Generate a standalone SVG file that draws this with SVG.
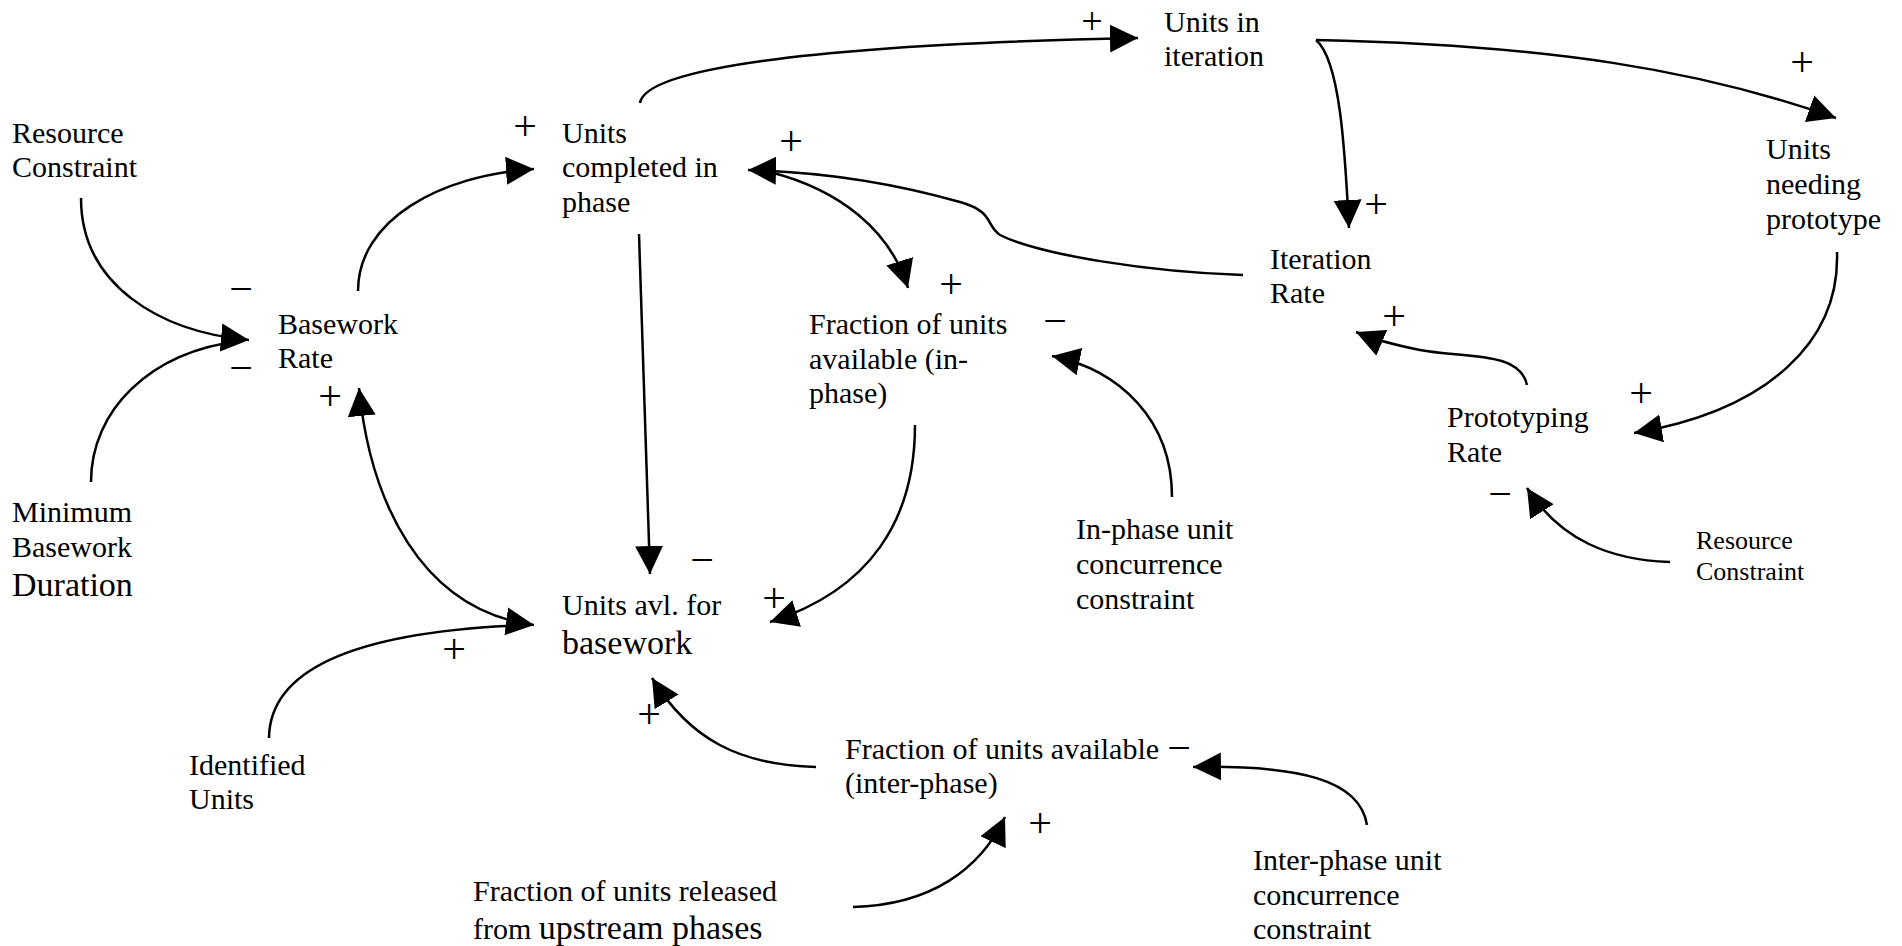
<svg xmlns="http://www.w3.org/2000/svg" width="1902" height="946" viewBox="0 0 1902 946">
<style>
text{font-family:"Liberation Serif","Times New Roman",serif;font-size:30px;fill:#000}
.big{font-size:34px}
.sm{font-size:26px}
.sign{font-size:42px;text-anchor:middle}
.c{fill:none;stroke:#000;stroke-width:2.5}
</style>
<defs>
<marker id="ah" markerUnits="userSpaceOnUse" markerWidth="30" markerHeight="30" refX="28" refY="14" orient="auto-start-reverse" viewBox="0 0 30 28">
<path d="M0,0 L28,14 L0,28 z" fill="#000"/>
</marker>
</defs>
<rect width="1902" height="946" fill="#fff"/>

<g id="connectors">
<path class="c" d="M81,198 C81,285 160,332 249,340" marker-end="url(#ah)"/>
<path class="c" d="M91,482 C91,410 150,352 240,341"/>
<path class="c" d="M358,291 C358,220 440,175 534,169" marker-end="url(#ah)"/>
<path class="c" d="M640,103 C645,70 800,45 1138,38" marker-end="url(#ah)"/>
<path class="c" d="M639,234 L650,574" marker-end="url(#ah)"/>
<path class="c" d="M770,172 C840,190 890,230 908,288" marker-end="url(#ah)"/>
<path class="c" d="M1243,275 C1150,272 1040,255 1000,235 C985,225 995,212 960,202 C900,185 830,172 748,170" marker-end="url(#ah)"/>
<path class="c" d="M1316,40 C1340,60 1345,150 1349,228" marker-end="url(#ah)"/>
<path class="c" d="M1316,40 C1550,45 1700,70 1836,118" marker-end="url(#ah)"/>
<path class="c" d="M1837,252 C1840,340 1770,410 1634,433" marker-end="url(#ah)"/>
<path class="c" d="M1527,385 C1520,350 1460,358 1420,350 C1395,345 1375,340 1356,332" marker-end="url(#ah)"/>
<path class="c" d="M1670,562 C1610,560 1560,540 1527,488" marker-end="url(#ah)"/>
<path class="c" d="M915,425 C915,520 870,590 770,622" marker-end="url(#ah)"/>
<path class="c" d="M1172,497 C1172,420 1120,370 1052,356" marker-end="url(#ah)"/>
<path class="c" d="M359,388 C370,500 420,610 534,625" marker-start="url(#ah)" marker-end="url(#ah)"/>
<path class="c" d="M269,738 C270,660 380,630 530,625"/>
<path class="c" d="M816,767 C740,765 690,740 652,678" marker-end="url(#ah)"/>
<path class="c" d="M853,907 C930,905 980,870 1005,817" marker-end="url(#ah)"/>
<path class="c" d="M1367,825 C1360,780 1300,765 1193,767" marker-end="url(#ah)"/>
</g>

<g id="signs">
<text class="sign" x="525" y="140">+</text>
<text class="sign" x="241" y="303">−</text>
<text class="sign" x="241" y="382">−</text>
<text class="sign" x="330" y="410">+</text>
<text class="sign" x="1092" y="34" style="font-size:38px">+</text>
<text class="sign" x="791" y="155">+</text>
<text class="sign" x="951" y="298">+</text>
<text class="sign" x="1055" y="335">−</text>
<text class="sign" x="1376" y="218">+</text>
<text class="sign" x="1802" y="76">+</text>
<text class="sign" x="1394" y="330">+</text>
<text class="sign" x="1641" y="407">+</text>
<text class="sign" x="1500" y="508">−</text>
<text class="sign" x="702" y="574">−</text>
<text class="sign" x="774" y="612">+</text>
<text class="sign" x="454" y="663">+</text>
<text class="sign" x="649" y="728">+</text>
<text class="sign" x="1179" y="762">−</text>
<text class="sign" x="1040" y="837">+</text>
</g>

<g id="resource-constraint-1"><text x="12" y="143">Resource</text><text x="12" y="177">Constraint</text></g>
<g id="basework-rate"><text x="278" y="334">Basework</text><text x="278" y="368">Rate</text></g>
<g id="units-completed"><text x="562" y="143">Units</text><text x="562" y="177">completed in</text><text x="562" y="212">phase</text></g>
<g id="units-in-iteration"><text x="1164" y="32">Units in</text><text x="1164" y="66">iteration</text></g>
<g id="units-needing-prototype"><text x="1766" y="159">Units</text><text x="1766" y="194">needing</text><text x="1766" y="229">prototype</text></g>
<g id="iteration-rate"><text x="1270" y="269">Iteration</text><text x="1270" y="303">Rate</text></g>
<g id="fraction-in-phase"><text x="809" y="334">Fraction of units</text><text x="809" y="369">available (in-</text><text x="809" y="403">phase)</text></g>
<g id="prototyping-rate"><text x="1447" y="427">Prototyping</text><text x="1447" y="462">Rate</text></g>
<g id="min-basework-duration"><text x="12" y="522">Minimum</text><text x="12" y="557">Basework</text><text class="big" x="12" y="596">Duration</text></g>
<g id="in-phase-constraint"><text x="1076" y="539">In-phase unit</text><text x="1076" y="574">concurrence</text><text x="1076" y="609">constraint</text></g>
<g id="resource-constraint-2"><text class="sm" x="1696" y="549">Resource</text><text class="sm" x="1696" y="580">Constraint</text></g>
<g id="units-avl"><text x="562" y="615">Units avl. for</text><text class="big" x="562" y="654">basework</text></g>
<g id="identified-units"><text x="189" y="775">Identified</text><text x="189" y="809">Units</text></g>
<g id="fraction-inter-phase"><text x="845" y="759">Fraction of units available</text><text x="845" y="793">(inter-phase)</text></g>
<g id="fraction-released"><text x="473" y="901">Fraction of units released</text><text x="473" y="939">from <tspan class="big">upstream phases</tspan></text></g>
<g id="inter-phase-constraint"><text x="1253" y="870">Inter-phase unit</text><text x="1253" y="905">concurrence</text><text x="1253" y="939">constraint</text></g>
</svg>
